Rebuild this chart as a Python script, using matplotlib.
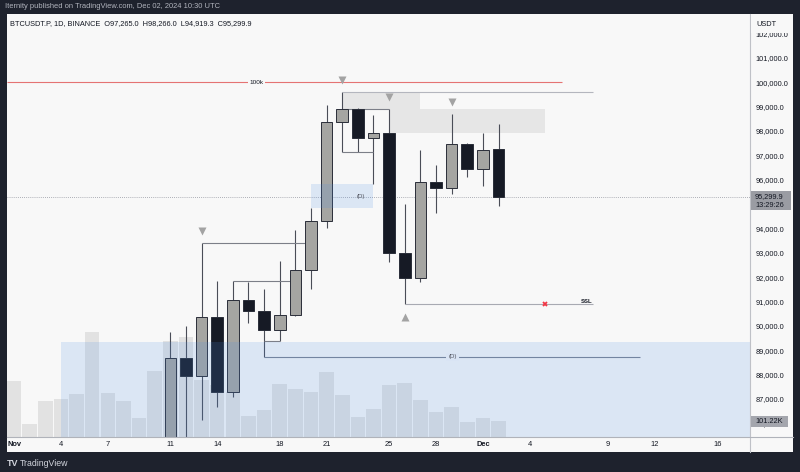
import matplotlib
matplotlib.use('Agg')
import matplotlib.pyplot as plt
from matplotlib.patches import Rectangle
from matplotlib.lines import Line2D
import matplotlib.transforms as mtransforms

plt.rcParams['font.family'] = ['Liberation Sans', 'DejaVu Sans']

# ---- data (day index counted from Nov 1 = 0) ----
candle_days = list(range(10, 32))
opens = [80400, 88700, 87950, 90350, 87300, 91050, 90600, 89850, 90450, 92300, 94300,
         98350, 98900, 97700, 97900, 93000, 91950, 95900, 95650, 97450, 96450, 97265.0]
highs = [89750, 90000, 93400, 91850, 91850, 91800, 91500, 92650, 93950, 94850, 99080,
         99600, 98950, 98650, 98900, 95000, 97200, 96600, 98700, 97500, 97900, 98266.0]
lows = [76800, 85100, 86140, 86680, 87080, 90100, 88730, 89380, 90400, 91500, 94000,
        97150, 97150, 95800, 92600, 90900, 91800, 94650, 95400, 96100, 95750, 94919.3]
closes = [88700, 87950, 90350, 87300, 91050, 90600, 89850, 90450, 92300, 94300, 98350,
          98900, 97700, 97900, 93000, 91950, 95900, 95650, 97450, 96450, 97200, 95299.9]

vol_days = list(range(0, 32))
volumes = [342, 80, 221, 233, 264, 646, 272, 221, 118, 405, 589, 615, 350, 319, 276, 129,
           166, 325, 294, 278, 401, 258, 121, 170, 319, 333, 227, 152, 182, 94, 115, 101.22]

date_ticks = [0, 3, 6, 10, 13, 17, 20, 24, 27, 30, 33, 38, 41, 45]
date_labels = ['Nov', '4', '7', '11', '14', '18', '21', '25', '28', 'Dec', '4', '9', '12', '16']
price_ticks = list(range(86000, 103000, 1000))

demand_zone = [3, 89350]          # start day, top price
fvg_zone = [19, 23, 94850, 95800]  # day0, day1, low, high
supply_box1 = [21, 26, 98900, 99600]
supply_box2 = [24, 34, 97900, 98900]
level_100k = 100000

# ---- layout helpers (pixels) ----
W, H = 800, 472
def fx(px): return px / W
def fy(py): return 1 - py / H

BG = '#1e222d'
PANEL = '#f8f8f8'
TXT = '#131722'

fig = plt.figure(figsize=(8, 4.72), dpi=100, facecolor=BG)
fig.add_artist(Rectangle((fx(7), fy(452)), fx(793) - fx(7), fy(14) - fy(452),
                         transform=fig.transFigure, facecolor=PANEL, edgecolor='none', zorder=-2))

rect = [fx(7), fy(437), fx(750) - fx(7), fy(14) - fy(437)]
ax_vol = fig.add_axes(rect, facecolor='none')
ax = fig.add_axes(rect, facecolor='none')
xlim = (-0.45, 47.09)
ylim = (85442, 102792)
for a in (ax_vol, ax):
    a.set_xlim(*xlim)
    for s in a.spines.values():
        s.set_visible(False)
ax.set_ylim(*ylim)
ax_vol.set_ylim(0, 2595)
ax_vol.set_xticks([])
ax_vol.set_yticks([])

# volume
ax_vol.bar(vol_days, volumes, width=0.93, color='#e2e2e2', linewidth=0)

# grey supply boxes
for d0, d1, lo, hi in (supply_box1, supply_box2):
    ax.add_patch(Rectangle((d0, lo), d1 - d0, hi - lo, facecolor='#e6e6e6', edgecolor='none', zorder=1))

# candles
UP = '#a5a5a2'
DOWN = '#161a25'
for d, o, h, l, c in zip(candle_days, opens, highs, lows, closes):
    ax.vlines(d, l, h, color='#4a4d57', lw=0.8, zorder=2)
    lo, hi = min(o, c), max(o, c)
    ax.add_patch(Rectangle((d - 0.37, lo), 0.74, max(hi - lo, 40),
                           facecolor=UP if c >= o else DOWN, edgecolor='#2a2e39', lw=0.7, zorder=3))

hi = dict(zip(candle_days, highs))
lo = dict(zip(candle_days, lows))
LINE = '#7c7f88'

# structure lines
ax.hlines(hi[12], 12, 18.6, color=LINE, lw=0.8, zorder=2)
ax.hlines(hi[14], 14, 18, color=LINE, lw=0.8, zorder=2)
ax.hlines(lo[17], 16, 17, color=LINE, lw=0.8, zorder=2)
ax.hlines(lo[21], 21, 23, color=LINE, lw=0.8, zorder=2)
ax.hlines(hi[24], 21, 24, color=LINE, lw=0.8, zorder=2)
ax.hlines(hi[21], 21, 37.04, color='#b4b6be', lw=0.8, zorder=2)
ax.hlines(lo[16], 16, 40.05, color='#7b8394', lw=0.8, zorder=2)
ax.hlines(lo[25], 25, 37.04, color='#a8aab2', lw=0.8, zorder=2)

# 100k level
ax.hlines(level_100k, xlim[0], 35.04, color='#e57373', lw=0.8, zorder=2)
ax.text(15.5, level_100k, '100k', fontsize=4.6, color=TXT, ha='center', va='center', zorder=6,
        bbox=dict(boxstyle='square,pad=0.25', facecolor=PANEL, edgecolor='none'))

# current price dotted line
ax.axhline(closes[-1], color='#9598a1', lw=0.6, ls=(0, (1, 1.5)), zorder=1)

# blue zones (overlay)
ZONE = '#4f8fe6'
ax.add_patch(Rectangle((demand_zone[0], ylim[0]), xlim[1] - demand_zone[0], demand_zone[1] - ylim[0],
                       facecolor=ZONE, alpha=0.17, edgecolor='none', zorder=4))
ax.add_patch(Rectangle((fvg_zone[0], fvg_zone[2]), fvg_zone[1] - fvg_zone[0], fvg_zone[3] - fvg_zone[2],
                       facecolor=ZONE, alpha=0.17, edgecolor='none', zorder=4))
ax.text(28.05, lo[16], '(D)', fontsize=4.4, color='#50535e', ha='center', va='center', zorder=6,
        bbox=dict(boxstyle='square,pad=0.3', facecolor='#d9e4f4', edgecolor='none'))
ax.text(22.2, (fvg_zone[2] + fvg_zone[3]) / 2, '(D)', fontsize=4.4, color='#50535e',
        ha='center', va='center', zorder=6)

# markers
down_tf = mtransforms.offset_copy(ax.transData, fig=fig, y=8.5, units='points')
up_tf = mtransforms.offset_copy(ax.transData, fig=fig, y=-9.5, units='points')
for d in (12, 21, 24, 28):
    ax.plot(d, hi[d], marker='v', ms=5.5, color='#a3a3a3', mec='none', transform=down_tf, zorder=6)
ax.plot(25, lo[25], marker='^', ms=5.5, color='#a3a3a3', mec='none', transform=up_tf, zorder=6)
ax.plot(34, lo[25], marker='x', ms=3.5, mew=1.3, color='#f23645', zorder=6)
ax.text(37.04, lo[25], 'SSL', fontsize=4.3, fontweight='bold', color=TXT, ha='right', va='bottom', zorder=6)

# axes ticks
ax.yaxis.tick_right()
ax.set_yticks(price_ticks)
ax.set_yticklabels([f'{v:,.1f}' for v in price_ticks])
ax.tick_params(axis='y', length=0, pad=3.8, labelsize=5.3, labelcolor=TXT)
ax.set_xticks(date_ticks)
ax.set_xticklabels(date_labels)
ax.tick_params(axis='x', length=0, pad=3.0, labelsize=5.4, labelcolor=TXT)
for t in ax.get_xticklabels():
    if t.get_text() in ('Nov', 'Dec'):
        t.set_fontweight('bold')

# separators
fig.add_artist(Line2D([fx(750), fx(750)], [fy(14), fy(452)], transform=fig.transFigure,
                      color='#bfc1c7', lw=0.8, zorder=3))
fig.add_artist(Line2D([fx(7), fx(793)], [fy(437), fy(437)], transform=fig.transFigure,
                      color='#b0b3ba', lw=0.8, zorder=3))

# USDT cell (hides upper half of the 102,000 label, as in TradingView)
fig.add_artist(Rectangle((fx(751), fy(33)), fx(793) - fx(751), fy(14) - fy(33), transform=fig.transFigure,
                         facecolor=PANEL, edgecolor='none', zorder=4))
fig.text(fx(756), fy(24), 'USDT', fontsize=5.3, color=TXT, va='center', zorder=5)

# price tag
fig.add_artist(Rectangle((fx(751), fy(210)), fx(791) - fx(751), 19 / H, transform=fig.transFigure,
                         facecolor='#9a9ca3', edgecolor='none', zorder=4))
fig.text(fx(755), fy(196.5), f'{closes[-1]:,.1f}', fontsize=5.3, color=TXT, va='center', zorder=5)
fig.text(fx(755), fy(205), '13:29:26', fontsize=5.3, color=TXT, va='center', zorder=5)

# volume tag
fig.add_artist(Rectangle((fx(751), fy(427)), fx(788) - fx(751), 11 / H, transform=fig.transFigure,
                         facecolor='#a4a6ad', edgecolor='none', zorder=4))
fig.text(fx(755), fy(421.5), f'{volumes[-1]:.2f}K', fontsize=5.3, color=TXT, va='center', zorder=5)

# header texts
fig.text(fx(5), fy(7), 'Iternity published on TradingView.com, Dec 02, 2024 10:30 UTC',
         fontsize=5.4, color='#b2b5be', va='center')
fig.text(fx(10), fy(24),
         f'BTCUSDT.P, 1D, BINANCE  O{opens[-1]:,.1f}  H{highs[-1]:,.1f}  L{lows[-1]:,.1f}  C{closes[-1]:,.1f}',
         fontsize=5.3, color=TXT, va='center')

# footer
fig.text(fx(7), fy(463), 'TV', fontsize=6.5, fontweight='bold', color='#d1d4dc', va='center')
fig.text(fx(20), fy(463), 'TradingView', fontsize=6.3, color='#d1d4dc', va='center')

fig.savefig('out.png', dpi=100, facecolor=BG)
